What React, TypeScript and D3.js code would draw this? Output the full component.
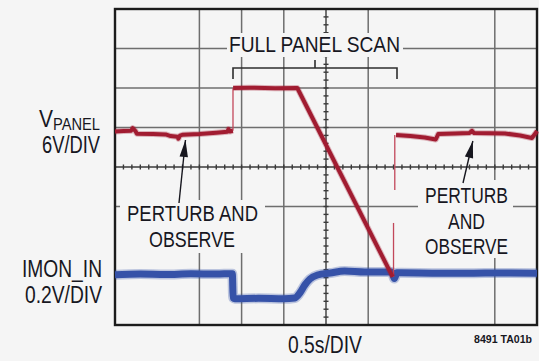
import React from 'react';
import * as d3 from 'd3';

// ---- Scope capture: MPPT scan of a solar panel ----
const WIDTH = 539;
const HEIGHT = 361;
const PLOT = { left: 115, top: 9, right: 537, bottom: 325 };
const X_DIVS = 10;
const Y_DIVS = 8;
const TIME_PER_DIV = 0.5; // seconds
const VPANEL_PER_DIV = 6; // volts
const VPANEL_GROUND_DIV = 1;
const IMON_PER_DIV = 0.2; // volts
const IMON_GROUND_DIV = 0;

type Pt = [number, number]; // [time s, value V]

// VPANEL while perturb-and-observe tracks the maximum power point
const vpanelTrackBefore: Pt[] = [
  [0, 23.4], [0.1, 23.45], [0.19, 23.5], [0.21, 23.9], [0.24, 23.5], [0.26, 23.05],
  [0.45, 23.0], [0.6, 22.95], [0.66, 22.7], [0.74, 22.6], [0.75, 22.3], [0.77, 22.75],
  [0.8, 22.9], [1.0, 23.0], [1.2, 23.2], [1.33, 23.35], [1.345, 23.75], [1.36, 23.4],
  [1.397, 23.5],
];
// Open-circuit hold, then the downward sweep of the full panel scan
const vpanelScan: Pt[] = [
  [1.4, 30.0], [1.6, 30.05], [1.9, 29.95], [2.16, 30.0], [3.29, 1.3],
];
const vpanelTrackAfter: Pt[] = [
  [3.33, 22.86], [3.5, 22.71], [3.67, 22.48], [3.8, 22.18], [3.83, 23.0],
  [4.03, 23.09], [4.2, 23.16], [4.23, 23.5], [4.255, 23.16], [4.62, 23.09],
  [4.8, 22.79], [4.94, 22.41], [4.975, 23.0], [5.0, 23.47],
];
// Fast edges, drawn as faint thin strokes
const vpanelEdges: Pt[][] = [
  [[1.398, 23.5], [1.398, 30.0]],
  [[3.3, 1.3], [3.3, 9.5]],
  [[3.315, 14.5], [3.315, 22.86]],
];

// IMON_IN trace
const imonTrace: Pt[] = [
  [0, 0.255], [0.3, 0.258], [0.6, 0.256], [0.9, 0.259], [1.2, 0.258], [1.39, 0.26],
  [1.4, 0.137], [1.42, 0.133], [1.7, 0.135], [2.0, 0.133], [2.13, 0.137],
  [2.19, 0.162], [2.25, 0.203], [2.31, 0.233], [2.4, 0.253], [2.55, 0.263],
  [2.72, 0.273], [2.96, 0.268], [3.28, 0.268], [3.31, 0.235], [3.34, 0.264],
  [3.6, 0.263], [4.0, 0.262], [4.5, 0.263], [5.0, 0.262],
];

// Grid lines kept on the graticule (division index)
const verticalGridDivs = [2, 3, 4, 6, 9];
const horizontalGridDivs = [3, 5, 6, 7];
const CENTER_X_DIV = 5;
const CENTER_Y_DIV = 4;

// Annotation text
const scanLabel = 'FULL PANEL SCAN';
const poLabelLeft = ['PERTURB AND', 'OBSERVE'];
const poLabelRight = ['PERTURB', 'AND', 'OBSERVE'];
const arrowTips: Pt[] = [[0.835, 22.1], [4.24, 21.95]];
const timeLabel = '0.5s/DIV';
const figureId = '8491 TA01b';

const BG = '#f5f5f5';
const INK = '#17171f';
const RED = '#a11c31';
const BLUE = '#3652a8';
const FONT = "'Liberation Sans Narrow', 'Liberation Sans', Arial, sans-serif";

const x = d3.scaleLinear().domain([0, X_DIVS * TIME_PER_DIV]).range([PLOT.left, PLOT.right]);
const div = d3.scaleLinear().domain([0, Y_DIVS]).range([PLOT.bottom, PLOT.top]);
const yV = d3.scaleLinear()
  .domain([-VPANEL_GROUND_DIV * VPANEL_PER_DIV, (Y_DIVS - VPANEL_GROUND_DIV) * VPANEL_PER_DIV])
  .range([PLOT.bottom, PLOT.top]);
const yI = d3.scaleLinear()
  .domain([-IMON_GROUND_DIV * IMON_PER_DIV, (Y_DIVS - IMON_GROUND_DIV) * IMON_PER_DIV])
  .range([PLOT.bottom, PLOT.top]);
const divX = (d: number) => PLOT.left + (d * (PLOT.right - PLOT.left)) / X_DIVS;

const vLine = d3.line<Pt>().x((d) => x(d[0])).y((d) => yV(d[1])).curve(d3.curveLinear);
const iLine = d3.line<Pt>().x((d) => x(d[0])).y((d) => yI(d[1])).curve(d3.curveMonotoneX);

// Background patches that clear the graticule behind the annotations
const clearBoxes = [
  { x: 227, y: 33, w: 176, h: 24 },
  { x: 120, y: 200, w: 145, h: 53 },
  { x: 418, y: 180, w: 95, h: 78 },
];

function arrowHead(tip: [number, number], tail: [number, number], len = 17, half = 4.2) {
  const dx = tip[0] - tail[0];
  const dy = tip[1] - tail[1];
  const n = Math.hypot(dx, dy);
  const ux = dx / n, uy = dy / n;
  const bx = tip[0] - ux * len, by = tip[1] - uy * len;
  const px = -uy, py = ux;
  return `M${tip[0]},${tip[1]}L${bx + px * half},${by + py * half}L${bx - px * half},${by - py * half}Z`;
}

function Label({ text, x: tx, y: ty, size, width, anchor = 'start', weight = 400 }:
  { text: string; x: number; y: number; size: number; width: number; anchor?: string; weight?: number }) {
  return (
    <text x={tx} y={ty} fontSize={size} fontFamily={FONT} fontWeight={weight} fill={INK}
      textAnchor={anchor as any} textLength={width} lengthAdjust="spacingAndGlyphs">
      {text}
    </text>
  );
}

export default function App() {
  const centerY = div(CENTER_Y_DIV);
  const centerX = divX(CENTER_X_DIV);
  const dxDiv = (PLOT.right - PLOT.left) / X_DIVS;
  const dyDiv = (PLOT.bottom - PLOT.top) / Y_DIVS;

  const xTicks = d3.range(0, X_DIVS * 5 + 1).map((i) => PLOT.left + (i * dxDiv) / 5);
  const yTicks = d3.range(0, Y_DIVS * 5 + 1).map((i) => PLOT.top + (i * dyDiv) / 5);

  const arrowTails: [number, number][] = [[179, 203], [463, 183]];
  const tips = arrowTips.map((p) => [x(p[0]), yV(p[1])] as [number, number]);

  return (
    <svg width={WIDTH} height={HEIGHT} style={{ position: 'absolute', left: 0, top: 0, display: 'block' }}>
      <rect x={0} y={0} width={WIDTH} height={HEIGHT} fill={BG} />

      {/* graticule */}
      <g stroke="#6e6e6e" strokeWidth={1.5}>
        {verticalGridDivs.map((d) => (
          <line key={`v${d}`} x1={divX(d)} x2={divX(d)} y1={PLOT.top} y2={PLOT.bottom} />
        ))}
        {horizontalGridDivs.map((d) => (
          <line key={`h${d}`} x1={PLOT.left} x2={PLOT.right} y1={div(d)} y2={div(d)} />
        ))}
      </g>
      <g stroke="#3a3a3a" strokeWidth={1.4}>
        <line x1={PLOT.left} x2={PLOT.right} y1={centerY} y2={centerY} />
        <line x1={centerX} x2={centerX} y1={PLOT.top} y2={PLOT.bottom} />
        {xTicks.map((t, i) => (
          <line key={`xt${i}`} x1={t} x2={t} y1={centerY - 2.5} y2={centerY + 2.5} />
        ))}
        {yTicks.map((t, i) => (
          <line key={`yt${i}`} x1={centerX - 2.5} x2={centerX + 2.5} y1={t} y2={t} />
        ))}
      </g>
      {clearBoxes.map((b, i) => (
        <rect key={`cb${i}`} x={b.x} y={b.y} width={b.w} height={b.h} fill={BG} />
      ))}
      <rect x={PLOT.left} y={PLOT.top} width={PLOT.right - PLOT.left} height={PLOT.bottom - PLOT.top}
        fill="none" stroke="#1c1c1c" strokeWidth={2.4} />

      {/* IMON_IN */}
      <path d={iLine(imonTrace) ?? ''} fill="none" stroke={BLUE} strokeOpacity={0.3} strokeWidth={10} strokeLinejoin="round" />
      <path d={iLine(imonTrace) ?? ''} fill="none" stroke={BLUE} strokeWidth={7} strokeLinejoin="round" />

      {/* VPANEL */}
      {vpanelEdges.map((e, i) => (
        <path key={`e${i}`} d={vLine(e) ?? ''} fill="none" stroke="#c2475a" strokeWidth={1.3} />
      ))}
      {[vpanelTrackBefore, vpanelScan, vpanelTrackAfter].map((seg, i) => (
        <g key={`s${i}`}>
          <path d={vLine(seg) ?? ''} fill="none" stroke={RED} strokeOpacity={0.3} strokeWidth={6} strokeLinejoin="round" />
          <path d={vLine(seg) ?? ''} fill="none" stroke={RED} strokeWidth={4} strokeLinejoin="round" />
        </g>
      ))}

      {/* scan bracket */}
      <path d="M233,79V68H397V79M315,68V60" fill="none" stroke="#2e2e2e" strokeWidth={1.6} />
      <Label text={scanLabel} x={314.5} y={52} size={22} width={171} anchor="middle" />

      {/* perturb & observe annotations */}
      <Label text={poLabelLeft[0]} x={192.5} y={221} size={22} width={131} anchor="middle" />
      <Label text={poLabelLeft[1]} x={192} y={247} size={22} width={86} anchor="middle" />
      <Label text={poLabelRight[0]} x={466.5} y={203} size={22} width={83} anchor="middle" />
      <Label text={poLabelRight[1]} x={466.5} y={229} size={22} width={37} anchor="middle" />
      <Label text={poLabelRight[2]} x={466.5} y={254} size={22} width={83} anchor="middle" />
      {tips.map((tip, i) => (
        <g key={`a${i}`}>
          <line x1={arrowTails[i][0]} y1={arrowTails[i][1]} x2={tip[0]} y2={tip[1]} stroke={INK} strokeWidth={1.4} />
          <path d={arrowHead(tip, arrowTails[i])} fill={INK} />
        </g>
      ))}

      {/* channel labels */}
      <Label text="V" x={39} y={127} size={23} width={14} />
      <Label text="PANEL" x={53} y={130} size={16.5} width={47} />
      <Label text="6V/DIV" x={100} y={153} size={23} width={58} anchor="end" />
      <Label text="IMON_IN" x={102} y={277} size={23} width={80} anchor="end" />
      <Label text="0.2V/DIV" x={102} y={303} size={23} width={77} anchor="end" />

      <Label text={timeLabel} x={325} y={353} size={23} width={74} anchor="middle" />
      <Label text={figureId} x={474} y={343} size={11.5} width={58} weight={700} />
    </svg>
  );
}
